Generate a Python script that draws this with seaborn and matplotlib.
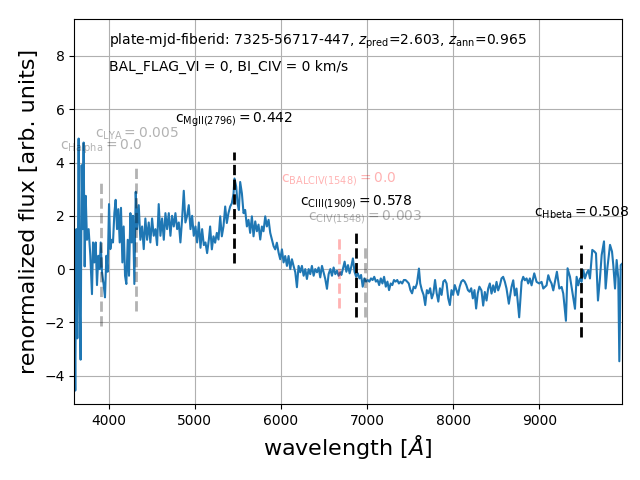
import numpy as np
import pandas as pd
import seaborn as sns
import matplotlib
matplotlib.use('Agg')
import matplotlib.pyplot as plt

# spectrum in four pieces
wave_uv = [3600, 3612, 3624, 3636, 3651, 3663, 3674, 3686, 3698, 3709,
           3721, 3733, 3748, 3767, 3787, 3806, 3818, 3833, 3849, 3864,
           3880, 3895, 3907, 3922, 3942, 3957, 3973, 3988, 4004, 4019,
           4035, 4050, 4066, 4081, 4097, 4112, 4128, 4143, 4159, 4174,
           4190, 4205, 4221, 4236, 4252, 4267, 4283, 4298, 4314, 4329,
           4349, 4368, 4388, 4407, 4426, 4446, 4465, 4484, 4504, 4523,
           4543, 4562, 4581, 4601, 4620, 4640, 4659, 4678, 4698, 4717,
           4736, 4756, 4775, 4795, 4814, 4833, 4853, 4872, 4891, 4911,
           4930, 4950, 4969, 4988, 5008, 5027, 5047, 5066, 5085, 5105,
           5124, 5143, 5163]
flux_uv = [-0.5, -4.56, 1.5, -2.6, 4.9, -1.0, -3.4, 3.9, 1.5, 4.75,
           0.1, 2.75, 1.1, 1.5, 0.5, -0.94, 1.0, 0.25, 1.0, -0.6,
           0.5, 0.0, 1.0, -0.1, -0.6, -1.06, 0.5, -0.1, 2.44, 0.75,
           1.1, 1.0, 2.1, 2.6, 1.5, 2.25, 1.0, 2.3, 0.25, 1.6,
           -0.25, -0.56, 1.1, -0.25, 2.1, 1.0, 2.0, -0.56, 2.9, 1.5,
           2.4, 1.1, 1.6, 0.75, 1.9, 1.1, 1.75, 1.0, 1.9, 1.25,
           1.5, 0.9, 2.44, 1.25, 1.9, 1.1, 2.1, 1.5, 2.1, 1.25,
           2.0, 1.6, 2.1, 1.5, 1.75, 1.0, 1.9, 2.94, 1.75, 2.0,
           2.4, 1.5, 2.0, 1.25, 1.6, 1.0, 1.75, 0.8, 1.5, 0.9,
           1.0, 0.6, 1.1]

wave_mgii = [5178, 5198, 5217, 5236, 5256, 5275, 5295, 5314, 5333, 5353,
             5372, 5391, 5411, 5430, 5450, 5461, 5481, 5496, 5512, 5527,
             5547, 5566, 5585, 5605, 5624, 5643, 5663, 5682, 5702, 5721,
             5740, 5760, 5779, 5798, 5818, 5837, 5857, 5876, 5895, 5915,
             5934, 5953, 5973, 5992, 6012, 6031, 6050, 6070, 6089, 6109,
             6128, 6147, 6167, 6186, 6205, 6225, 6244, 6264, 6283, 6302,
             6322, 6341, 6360, 6380, 6399, 6419, 6438, 6457, 6477, 6496,
             6515, 6535, 6554, 6574, 6593, 6612, 6632, 6651, 6670, 6690]
flux_mgii = [1.6, 0.74, 1.23, 0.99, 1.36, 1.11, 1.98, 1.23, 1.6, 2.35,
             1.73, 2.1, 2.35, 2.47, 2.84, 3.4, 3.09, 2.47, 2.22, 3.27,
             2.84, 2.1, 2.22, 1.6, 1.85, 1.36, 1.98, 1.23, 1.79, 1.42,
             1.67, 1.11, 1.6, 1.42, 1.98, 1.6, 1.85, 1.36, 1.11, 0.86,
             0.74, 0.99, 0.62, 0.37, 0.74, 0.25, 0.49, 0.12, 0.49, 0.0,
             0.37, 0.12, -0.12, -0.68, 0.12, -0.12, 0.12, -0.25, 0.0, -0.37,
             0.0, -0.19, 0.12, -0.25, 0.0, -0.12, 0.06, -0.31, 0.12, -0.12,
             -0.37, -0.74, -0.19, 0.0, -0.25, 0.06, -0.19, -0.06, -0.25, -0.12]

wave_red = [6702, 6721, 6740, 6760, 6779, 6798, 6817, 6836, 6855, 6874,
            6893, 6912, 6931, 6950, 6969, 6989, 7008, 7027, 7046, 7065,
            7084, 7103, 7122, 7141, 7160, 7179, 7198, 7218, 7237, 7256,
            7275, 7294, 7313, 7332, 7351, 7370, 7389, 7408, 7428, 7447,
            7466, 7485, 7504, 7523, 7542, 7561, 7580, 7603, 7618, 7637,
            7657, 7676, 7695, 7714, 7733, 7752, 7771, 7790, 7809, 7828,
            7847, 7866, 7886, 7905, 7924, 7943, 7962, 7981, 8000, 8019,
            8038, 8057, 8076, 8095, 8115, 8134, 8153, 8172, 8191, 8210,
            8229, 8248, 8267, 8286, 8305]
flux_red = [-0.22, 0.02, 0.28, -0.1, 0.15, -0.16, 0.09, 0.4, -0.1, -0.29,
            -0.16, -0.35, -0.22, -0.66, -0.35, -0.47, -0.41, -0.47, -0.35, -0.41,
            -0.29, -0.47, -0.41, -0.6, -0.35, -0.54, -0.29, -0.66, -0.47, -0.79,
            -0.54, -0.6, -0.41, -0.47, -0.41, -0.54, -0.47, -0.54, -0.41, -0.41,
            -0.47, -0.54, -0.79, -0.91, -0.66, -0.72, -0.54, 0.02, -0.54, -0.79,
            -0.97, -1.35, -0.79, -0.91, -0.72, -1.1, -0.91, -0.41, -0.91, -1.22,
            -0.72, -0.97, -0.47, -0.41, -0.54, -1.1, -1.35, -0.79, -0.97, -0.6,
            -0.79, -0.97, -0.66, -0.47, -0.41, -0.47, -0.6, -0.79, -0.85, -0.72,
            -1.1, -0.79, -1.48, -0.91, -0.66]

wave_ir = [8329, 8349, 8368, 8388, 8407, 8426, 8446, 8465, 8484, 8504,
           8523, 8543, 8562, 8581, 8601, 8620, 8647, 8678, 8698, 8717,
           8736, 8767, 8795, 8814, 8833, 8853, 8872, 8891, 8911, 8942,
           8969, 9000, 9027, 9047, 9066, 9085, 9105, 9124, 9143, 9163,
           9182, 9205, 9233, 9260, 9279, 9310, 9329, 9357, 9384, 9415,
           9434, 9453, 9473, 9492, 9512, 9531, 9550, 9570, 9589, 9616,
           9640, 9659, 9682, 9705, 9725, 9752, 9771, 9791, 9822, 9845,
           9860, 9880, 9899, 9918, 9930, 9946, 9962]
flux_ir = [-0.8, -1.37, -0.86, -1.18, -0.73, -0.54, -0.92, -0.61, -0.86, -0.48,
           -0.8, -0.61, -0.35, -0.29, -0.48, -0.73, -1.3, -0.67, -0.42, -0.99,
           -0.73, -1.81, -0.48, -0.29, -0.42, -0.35, -0.54, -0.35, -0.61, -0.16,
           -0.48, -0.54, -0.48, -0.73, -0.67, -0.61, -0.23, -0.42, -0.54, -0.8,
           -0.48, -0.1, -0.73, -0.67, -0.92, -1.94, 0.03, -0.29, -0.86, -1.49,
           -0.29, -0.61, -0.35, -0.48, -0.04, -0.35, -0.16, -0.04, -0.35, 0.72,
           0.66, 0.59, -1.18, -0.35, 0.53, 1.04, -0.73, 0.03, 0.91, 0.66,
           0.15, -0.73, 0.34, -0.35, -3.46, 0.15, 0.2]

# emission line markers
line_names = ['Halpha', 'LYA', 'MgII(2796)', 'BALCIV(1548)', 'CIII(1909)', 'CIV(1548)', 'Hbeta']
line_conf = ['0.0', '0.005', '0.442', '0.0', '0.578', '0.003', '0.508']
line_wave = [3915, 4322, 5452, 6671, 6872, 6980, 9488]
line_lo = [-2.14, -1.58, 0.22, -1.47, -1.8, -1.8, -2.56]
line_hi = [3.38, 3.83, 4.41, 1.2, 1.35, 0.83, 0.9]
label_y = [4.59, 5.07, 5.6, 3.38, 2.53, 1.97, 2.1]
line_color = ['k', 'k', 'k', 'r', 'k', 'k', 'k']
line_alpha = [0.3, 0.3, 1.0, 0.3, 1.0, 0.3, 1.0]

for w, f in [(wave_uv, flux_uv), (wave_mgii, flux_mgii), (wave_red, flux_red), (wave_ir, flux_ir)]:
    assert len(w) == len(f), (len(w), len(f))

spec = pd.DataFrame({'wave': wave_uv + wave_mgii + wave_red + wave_ir,
                     'flux': flux_uv + flux_mgii + flux_red + flux_ir})

fig, ax = plt.subplots(figsize=(6.4, 4.8), dpi=100)
sns.lineplot(data=spec, x='wave', y='flux', ax=ax, color='#1f77b4', lw=1.5,
             estimator=None, sort=False)

for name, c, w, lo, hi, ty, col, a in zip(line_names, line_conf, line_wave, line_lo,
                                            line_hi, label_y, line_color, line_alpha):
    ax.plot([w, w], [lo, hi], '--', color=col, alpha=a, lw=2)
    ax.text(w, ty, r'c$_{\rm ' + name + '}=$' + c, color=col, alpha=a,
            ha='center', va='center', fontsize=10)

ax.text(4000, 8.55, r'plate-mjd-fiberid: 7325-56717-447, $z_{\rm pred}$=2.603, $z_{\rm ann}$=0.965',
        fontsize=10, va='center')
ax.text(4000, 7.6, 'BAL_FLAG_VI = 0, BI_CIV = 0 km/s', fontsize=10, va='center')

ax.set_xlim(spec['wave'].iloc[0], spec['wave'].iloc[-1])
ax.set_ylim(-5.07, 9.38)
ax.grid(True)
ax.set_xlabel(r'wavelength [$\AA$]', fontsize=16)
ax.set_ylabel('renormalized flux [arb. units]', fontsize=16)
plt.subplots_adjust(left=0.116, right=0.972, top=0.960, bottom=0.158)
plt.savefig('out.png')
